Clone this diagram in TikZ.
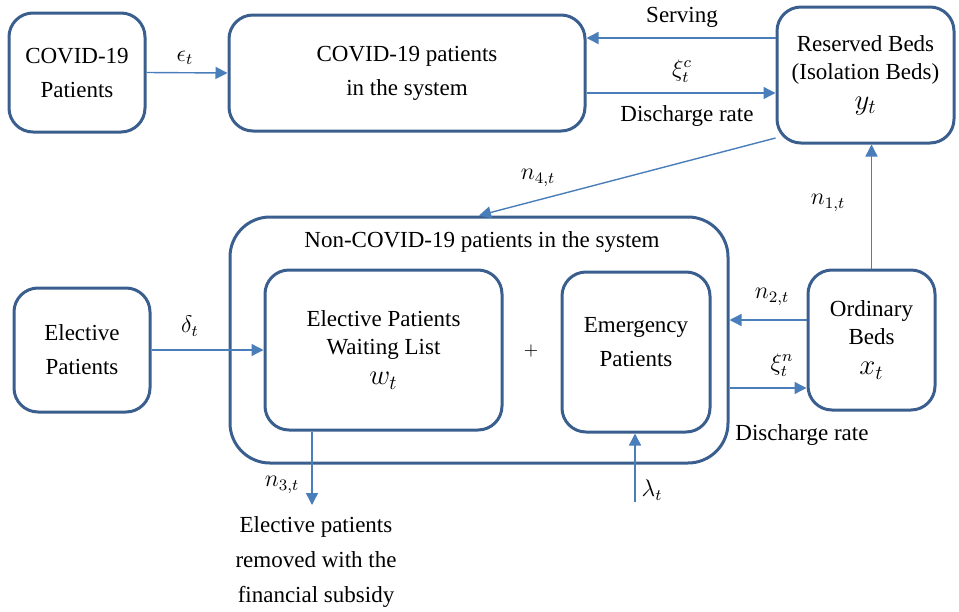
\documentclass[tikz,border=0pt]{standalone}
\usepackage{fontspec}
\setmainfont{Liberation Serif}
\usetikzlibrary{arrows.meta}
\definecolor{boxc}{HTML}{3A5F8E}
\definecolor{arrc}{HTML}{4A7EBB}
\begin{document}
\begin{tikzpicture}[x=0.5pt,y=-0.5pt,
  box/.style={draw=boxc, line width=1.5pt, rounded corners=12pt, align=center,
    font=\fontsize{11.5}{14}\selectfont, inner sep=0pt},
  arr/.style={draw=arrc, line width=0.7pt, -{Triangle[length=6pt,width=6pt]}},
  lbl/.style={font=\fontsize{11.5}{14}\selectfont, inner sep=1pt, align=center}]
\useasboundingbox (0,0) rectangle (959,611);
% boxes
\node[box, minimum width=68pt, minimum height=59.5pt] (cp) at (77,72.5) {COVID-19\\[3pt]Patients};
\node[box, minimum width=178pt, minimum height=58pt] (cs) at (407,73) {COVID-19 patients\\[3pt]in the system};
\node[box, minimum width=88.5pt, minimum height=68pt] (rb) at (865.5,75) {Reserved Beds\\(Isolation Beds)\\[1pt]{\Large$y_t$}};
\node[box, rounded corners=20pt, minimum width=249pt, minimum height=123pt] (outer) at (479,340) {};
\node[box, minimum width=118.5pt, minimum height=80pt] (wl) at (383.5,350) {};
\node[box, minimum width=74pt, minimum height=80pt] (em) at (636,352) {};
\node[box, minimum width=63.5pt, minimum height=70pt] (ob) at (871.5,340) {Ordinary\\Beds\\[1pt]{\Large$x_t$}};
\node[box, minimum width=68pt, minimum height=62pt] (ep) at (82,350) {Elective\\[3pt]Patients};
% inner texts
\node[lbl] (wlt) at (wl.center) {Elective Patients\\Waiting List\\[1pt]{\Large$w_t$}};
\node[lbl] (emt) at (636,342) {Emergency\\[3pt]Patients};
\node[lbl] (oct) at (482,242) {Non-COVID-19 patients in the system};
\node[font=\fontsize{9}{10}\selectfont] (plus) at (531,351) {$+$};
% helper coordinates
\coordinate (y38) at (0,38);
\coordinate (y93) at (0,93);
\coordinate (y320) at (0,320);
\coordinate (y388) at (0,388);
\coordinate (rem) at (312,505);
\coordinate (lam) at (635,502);
% connectors
\draw[arr] (cp.east) -- (cs.west);
\draw[arr] (rb.west |- y38) -- (cs.east |- y38);
\draw[arr] (cs.east |- y93) -- (rb.west |- y93);
\draw[arr] (rb.215) -- (outer.north);
\draw[arr] (ob.north) -- (ob.north |- rb.south);
\draw[arr] (ob.west |- y320) -- (outer.east |- y320);
\draw[arr] (outer.east |- y388) -- (ob.west |- y388);
\draw[arr] (ep.east) -- (wl.west);
\draw[arr] (wl.south -| rem) -- (rem);
\draw[arr] (lam) -- (em.south -| lam);
% labels
\node[lbl] (le) at (185,58) {$\epsilon_t$};
\node[lbl] (ls) at (682,17) {Serving};
\node[lbl] (lxc) at (682,71) {$\xi_t^c$};
\node[lbl] (ld1) at (687,116) {Discharge rate};
\node[lbl] (ln4) at (538,178) {$n_{4,t}$};
\node[lbl] (ln1) at (828,203) {$n_{1,t}$};
\node[lbl] (ln2) at (772,297) {$n_{2,t}$};
\node[lbl] (lxn) at (782,365) {$\xi_t^n$};
\node[lbl] (ld2) at (802,435) {Discharge rate};
\node[lbl] (ld) at (190,326) {$\delta_t$};
\node[lbl] (ln3) at (282,485) {$n_{3,t}$};
\node[lbl] (ll) at (652,490) {$\lambda_t$};
\node[lbl, font=\fontsize{11.5}{17.5}\selectfont] (remt) at (316,562) {Elective patients\\removed with the\\financial subsidy};
\end{tikzpicture}
\end{document}
